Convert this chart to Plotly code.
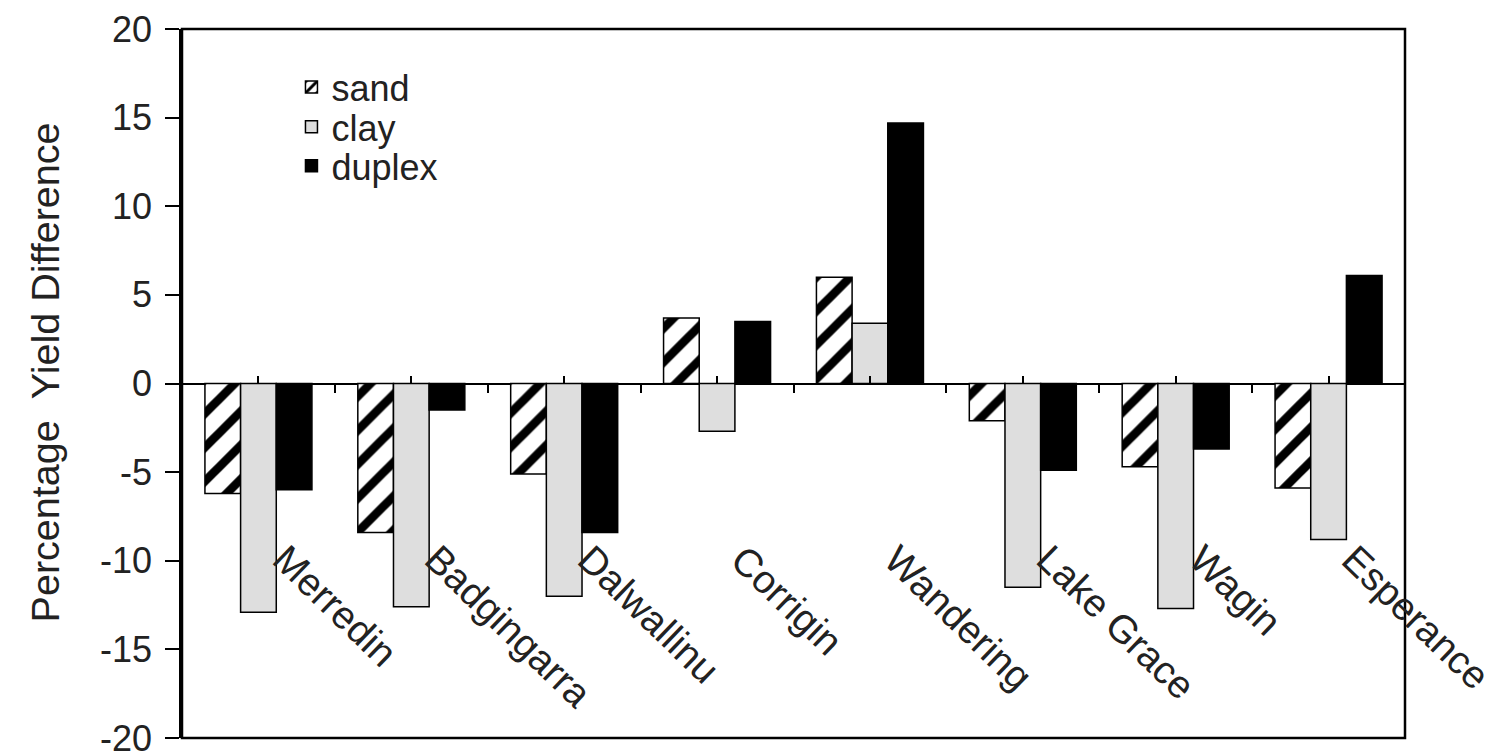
import plotly.graph_objects as go

sites = ["Merredin", "Badgingarra", "Dalwallinu", "Corrigin", "Wandering",
         "Lake Grace", "Wagin", "Esperance"]
sand = [-6.2, -8.4, -5.1, 3.7, 6.0, -2.1, -4.7, -5.9]
clay = [-12.9, -12.6, -12.0, -2.7, 3.4, -11.5, -12.7, -8.8]
duplex = [-6.0, -1.5, -8.4, 3.5, 14.7, -4.9, -3.7, 6.1]
y_ticks = [-20, -15, -10, -5, 0, 5, 10, 15, 20]
y_tick_text = ["-20", "-15", "-10", "-5", "0", "5", "10", "15", "20"]

FONT = "Liberation Sans, Arial, sans-serif"
TXT = "#222222"

fig = go.Figure()
fig.add_trace(go.Bar(
    name="sand", x=sites, y=sand, legend="legend",
    marker=dict(color="white", line=dict(color="black", width=1.5),
                pattern=dict(shape="/", fgcolor="black", bgcolor="white",
                             fgopacity=1, size=24, solidity=0.36)),
))
fig.add_trace(go.Bar(
    name="clay", x=sites, y=clay, legend="legend2",
    marker=dict(color="#dedede", line=dict(color="black", width=1.5)),
))
fig.add_trace(go.Bar(
    name="duplex", x=sites, y=duplex, legend="legend3",
    marker=dict(color="black", line=dict(color="black", width=1.5)),
))
# helper trace so the boundary-tick axis is drawn
fig.add_trace(go.Scatter(x=sites, y=[None] * len(sites), xaxis="x2",
                         showlegend=False, hoverinfo="skip"))

# rotated category labels
for i, s in enumerate(sites):
    fig.add_annotation(x=i + 0.02, y=-8.5, xref="x", yref="y", text=s,
                       showarrow=False, textangle=44, xanchor="left",
                       yanchor="top",
                       font=dict(family=FONT, size=39, color=TXT))

# y-axis title
fig.add_annotation(x=-0.132, y=0.515, xref="paper", yref="paper",
                   text="Percentage  Yield Difference", showarrow=False,
                   textangle=-90, font=dict(family=FONT, size=39.5, color=TXT))

# plot frame
fig.add_shape(type="rect", xref="paper", yref="paper", x0=0, x1=1, y0=0, y1=1,
              line=dict(color="black", width=2.5), layer="above")

leg = dict(x=0.0895, xanchor="left", yanchor="middle",
           bgcolor="rgba(0,0,0,0)",
           font=dict(family=FONT, size=36, color=TXT))

fig.update_layout(
    template="none",
    width=1499, height=754,
    margin=dict(l=182, r=94, t=29, b=16),
    paper_bgcolor="white", plot_bgcolor="white",
    barmode="group", bargap=0.3, bargroupgap=0,
    showlegend=True,
    legend=dict(leg, y=0.918),
    legend2=dict(leg, y=0.862),
    legend3=dict(leg, y=0.807),
    xaxis=dict(type="category", categoryorder="array", categoryarray=sites,
               range=[-0.5, 7.5], anchor="free", position=0.5,
               automargin=False,
               showline=False, showgrid=False, zeroline=False,
               ticks="inside", ticklen=8, tickwidth=2, tickcolor="black",
               showticklabels=False),
    xaxis2=dict(type="category", categoryorder="array", categoryarray=sites,
                overlaying="x", matches="x", anchor="free", position=0.5,
                side="bottom", tickson="boundaries", automargin=False,
                showline=False, showgrid=False, zeroline=False,
                ticks="outside", ticklen=8, tickwidth=2, tickcolor="black",
                showticklabels=False),
    yaxis=dict(range=[-20, 20], tickvals=y_ticks, ticktext=y_tick_text,
               automargin=False, ticklabeloverflow="allow",
               ticks="outside", ticklen=14, tickwidth=2, tickcolor="black",
               showline=True, linecolor="black", linewidth=2.5,
               showgrid=False, zeroline=True, zerolinecolor="black",
               zerolinewidth=2, ticklabelstandoff=6,
               tickfont=dict(family=FONT, size=36, color=TXT)),
)

fig.write_html(
    "out.html",
    config={"displayModeBar": False},
    post_script="document.body.style.margin='0';"
                "document.body.style.overflow='hidden';",
)
